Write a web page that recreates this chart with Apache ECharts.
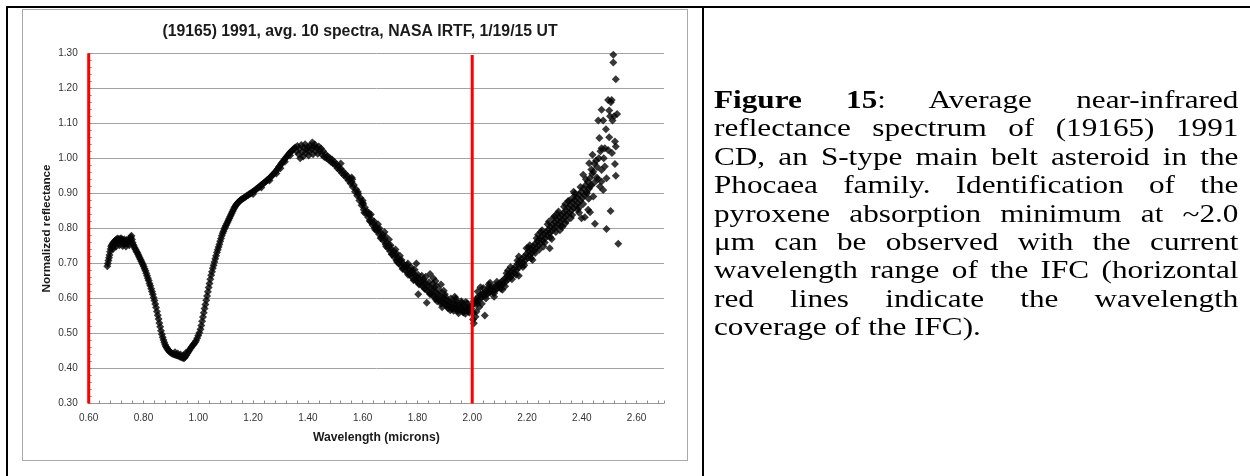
<!DOCTYPE html>
<html>
<head>
<meta charset="utf-8">
<title>(19165) 1991 CD near-infrared reflectance</title>
<script src="https://cdn.jsdelivr.net/npm/echarts@6/dist/echarts.min.js"></script>
<style>
  html, body { margin: 0; padding: 0; background: #fff; width: 1250px; height: 476px; overflow: hidden; }
  .rule { position: absolute; background: #000; }
  #box { position: absolute; left: 22px; top: 9px; width: 664px; height: 450px; border: 1px solid #a9a9a9; background: #fff; }
  #chart { position: absolute; left: 0; top: 0; width: 1250px; height: 476px; }
  #caption {
    position: absolute; left: 714px; top: 86px; width: 437px;
    font-family: "Times New Roman", "Liberation Serif", serif; font-size: 26px; line-height: 28.4px; color: #000;
    transform: scaleX(1.2); transform-origin: 0 0;
  }
  #caption div { text-align: justify; text-align-last: justify; }
  #caption div.last { text-align: left; text-align-last: left; }
</style>
</head>
<body>
<div class="rule" style="left:6px;top:6px;width:1244px;height:2px"></div>
<div class="rule" style="left:6px;top:6px;width:2px;height:470px"></div>
<div class="rule" style="left:702px;top:6px;width:2px;height:470px"></div>
<div id="box"></div>
<div id="chart"></div>
<div id="caption">
  <div><b>Figure 15</b>: Average near-infrared</div>
  <div>reflectance spectrum of (19165) 1991</div>
  <div>CD, an S-type main belt asteroid in the</div>
  <div>Phocaea family. Identification of the</div>
  <div>pyroxene absorption minimum at ~2.0</div>
  <div>μm can be observed with the current</div>
  <div>wavelength range of the IFC (horizontal</div>
  <div>red lines indicate the wavelength</div>
  <div class="last">coverage of the IFC).</div>
</div>
<script>
// Averaged spectrum: [wavelength (microns), normalized reflectance]
const spectrum = [
  // 1-micron shoulder
  [0.668,0.692],[0.670,0.700],[0.672,0.708],[0.674,0.716],[0.676,0.724],[0.678,0.733],[0.680,0.741],[0.682,0.748],
  [0.684,0.752],[0.686,0.745],[0.688,0.756],[0.690,0.760],[0.692,0.750],[0.694,0.763],[0.696,0.757],[0.698,0.766],
  [0.700,0.760],[0.702,0.769],[0.704,0.762],[0.706,0.771],[0.708,0.764],[0.710,0.768],[0.712,0.760],[0.714,0.770],
  [0.716,0.765],[0.718,0.772],[0.720,0.763],[0.722,0.768],[0.724,0.758],[0.726,0.766],[0.728,0.761],[0.730,0.768],
  [0.732,0.757],[0.734,0.764],[0.736,0.759],[0.738,0.767],[0.740,0.756],[0.742,0.763],[0.744,0.760],[0.746,0.768],
  [0.748,0.762],[0.750,0.771],[0.752,0.766],[0.754,0.775],[0.756,0.779],[0.758,0.768],[0.760,0.760],[0.762,0.754],
  [0.690,0.742],[0.700,0.748],[0.712,0.752],[0.724,0.750],[0.736,0.748],[0.748,0.752],
  // 1-micron band
  [0.765,0.750],[0.768,0.744],[0.771,0.740],[0.774,0.735],[0.777,0.731],[0.780,0.726],[0.783,0.721],[0.786,0.716],
  [0.789,0.711],[0.792,0.706],[0.795,0.701],[0.798,0.696],[0.801,0.691],[0.804,0.685],[0.807,0.679],[0.810,0.672],
  [0.813,0.665],[0.816,0.658],[0.819,0.651],[0.822,0.643],[0.825,0.636],[0.828,0.628],[0.831,0.620],[0.834,0.612],
  [0.837,0.603],[0.840,0.594],[0.843,0.584],[0.846,0.574],[0.849,0.563],[0.852,0.552],[0.855,0.541],[0.858,0.530],
  [0.861,0.519],[0.864,0.508],[0.867,0.498],[0.870,0.489],[0.873,0.481],[0.876,0.474],[0.879,0.468],[0.882,0.463],
  [0.885,0.459],[0.888,0.455],[0.891,0.452],[0.894,0.449],[0.897,0.447],[0.900,0.445],[0.904,0.443],[0.908,0.441],
  [0.912,0.440],[0.916,0.439],[0.920,0.438],[0.924,0.437],[0.928,0.436],[0.932,0.434],[0.936,0.433],[0.940,0.432],
  [0.944,0.430],[0.948,0.429],[0.952,0.433],[0.956,0.438],[0.960,0.443],[0.964,0.448],[0.968,0.453],[0.972,0.458],
  [0.976,0.462],[0.980,0.466],[0.984,0.470],[0.988,0.474],[0.992,0.479],[0.996,0.486],[1.000,0.494],[1.004,0.502],
  [0.915,0.446],[0.925,0.443],[0.935,0.440],[0.945,0.437],[0.955,0.445],
  [1.008,0.512],[1.011,0.523],[1.014,0.535],[1.017,0.547],[1.020,0.559],[1.023,0.571],[1.026,0.583],[1.029,0.595],
  [1.032,0.607],[1.035,0.619],[1.038,0.631],[1.041,0.643],[1.044,0.655],[1.047,0.666],[1.050,0.676],[1.053,0.686],
  [1.056,0.695],[1.059,0.704],[1.062,0.713],[1.065,0.722],[1.068,0.731],[1.071,0.739],[1.074,0.747],[1.077,0.755],
  [1.080,0.763],[1.083,0.771],[1.086,0.779],[1.089,0.786],[1.092,0.792],[1.095,0.798],[1.098,0.803],[1.101,0.808],
  [1.104,0.813],[1.107,0.818],[1.110,0.823],[1.113,0.828],[1.116,0.833],[1.119,0.838],[1.122,0.843],[1.125,0.848],
  [1.128,0.853],[1.131,0.858],[1.134,0.862],[1.137,0.866],[1.140,0.869],[1.143,0.872],[1.146,0.875],[1.149,0.877],
  [1.152,0.879],[1.155,0.881],[1.158,0.883],
  // continuum rise to the 1.4-micron peak
  [1.162,0.885],[1.166,0.887],[1.170,0.889],[1.174,0.891],[1.178,0.894],[1.182,0.895],[1.186,0.898],[1.190,0.900],
  [1.194,0.902],[1.198,0.904],[1.202,0.906],[1.206,0.908],[1.210,0.911],[1.214,0.913],[1.218,0.916],[1.222,0.918],
  [1.226,0.921],[1.230,0.924],[1.234,0.926],[1.238,0.929],[1.242,0.931],[1.246,0.934],[1.250,0.937],[1.254,0.939],
  [1.258,0.942],[1.262,0.945],[1.266,0.948],[1.270,0.951],[1.274,0.955],[1.278,0.958],[1.282,0.962],[1.286,0.966],
  [1.290,0.970],[1.294,0.975],[1.298,0.979],[1.302,0.984],[1.306,0.988],[1.310,0.992],[1.314,0.996],[1.318,1.000],
  [1.322,1.004],[1.326,1.008],[1.330,1.012],[1.334,1.016],[1.338,1.019],[1.342,1.022],[1.346,1.025],[1.350,1.028],
  [1.200,0.898],[1.230,0.917],[1.260,0.937],[1.285,0.957],[1.300,0.972],[1.316,0.990],[1.335,1.008],
  [1.354,1.031],[1.358,1.020],[1.362,1.035],[1.366,1.012],[1.370,1.028],[1.372,1.000],[1.376,1.038],[1.380,1.018],
  [1.383,1.005],[1.386,1.030],[1.390,1.040],[1.393,1.015],[1.396,1.026],[1.400,1.033],[1.403,1.008],[1.406,1.020],
  [1.410,1.037],[1.413,1.027],[1.416,1.045],[1.419,1.012],[1.422,1.033],[1.425,1.040],[1.428,1.020],[1.432,1.030],
  [1.436,1.013],[1.440,1.034],[1.444,1.022],[1.448,1.028],[1.452,1.010],[1.456,1.020],[1.460,1.004],[1.464,1.012],
  [1.468,1.000],[1.472,1.006],[1.476,0.996],[1.480,1.001],
  // 2-micron band, short-wavelength side
  [1.484,0.990],[1.488,0.997],[1.492,0.985],[1.496,0.990],[1.500,0.980],[1.504,0.984],[1.508,0.972],[1.512,0.977],
  [1.516,0.966],[1.520,0.970],[1.524,0.958],[1.528,0.963],[1.532,0.952],[1.536,0.956],[1.540,0.945],[1.544,0.950],
  [1.548,0.937],[1.552,0.942],[1.556,0.928],[1.560,0.933],[1.564,0.918],[1.568,0.924],[1.572,0.905],[1.576,0.912],
  [1.580,0.893],[1.584,0.899],[1.588,0.880],[1.592,0.887],[1.596,0.866],[1.600,0.873],[1.604,0.853],[1.608,0.860],
  [1.612,0.843],[1.616,0.848],[1.620,0.832],[1.624,0.838],[1.628,0.820],[1.632,0.826],[1.636,0.810],[1.640,0.815],
  [1.644,0.801],[1.648,0.806],[1.652,0.793],[1.656,0.798],[1.660,0.783],[1.664,0.789],[1.668,0.774],[1.672,0.780],
  [1.676,0.764],[1.680,0.770],[1.684,0.754],[1.688,0.760],[1.692,0.744],[1.696,0.751],[1.700,0.735],[1.704,0.742],
  [1.708,0.726],[1.712,0.733],[1.716,0.717],[1.720,0.725],[1.724,0.708],[1.728,0.716],[1.732,0.700],[1.736,0.709],
  [1.740,0.693],[1.744,0.702],[1.748,0.686],[1.752,0.695],[1.756,0.680],[1.760,0.690],[1.764,0.674],[1.768,0.683],
  [1.772,0.668],[1.776,0.677],[1.780,0.661],[1.784,0.672],[1.788,0.655],[1.792,0.666],[1.796,0.650],[1.800,0.660],
  [1.804,0.645],[1.808,0.655],[1.812,0.640],[1.816,0.650],[1.820,0.635],[1.824,0.646],[1.828,0.628],[1.832,0.641],
  [1.836,0.622],[1.840,0.636],[1.844,0.617],[1.848,0.630],[1.852,0.611],[1.856,0.624],[1.860,0.606],[1.864,0.619],
  [1.868,0.601],[1.872,0.614],[1.876,0.597],[1.880,0.609],[1.884,0.593],[1.888,0.604],[1.892,0.589],[1.896,0.600],
  [1.900,0.585],[1.904,0.596],[1.908,0.582],[1.912,0.593],[1.916,0.579],[1.920,0.590],[1.924,0.576],[1.928,0.587],
  [1.932,0.573],[1.936,0.584],[1.940,0.571],[1.944,0.582],[1.948,0.569],[1.952,0.580],[1.956,0.567],[1.960,0.578],
  [1.964,0.566],[1.968,0.577],[1.972,0.565],[1.976,0.575],[1.980,0.566],[1.984,0.574],[1.988,0.568],[1.992,0.576],
  [1.996,0.571],
  [1.562,0.940],[1.582,0.905],[1.602,0.870],[1.622,0.845],[1.642,0.820],[1.662,0.800],[1.682,0.778],[1.702,0.752],
  [1.722,0.730],[1.742,0.710],[1.762,0.695],[1.782,0.680],[1.802,0.668],[1.822,0.655],[1.842,0.646],[1.862,0.632],
  [1.882,0.622],[1.902,0.605],[1.922,0.600],[1.942,0.592],[1.962,0.588],[1.982,0.586],[1.872,0.592],[1.912,0.572],
  [1.932,0.565],[1.968,0.560],[1.990,0.560],
  [1.606,0.845],[1.626,0.822],[1.646,0.796],[1.666,0.772],[1.686,0.748],[1.706,0.726],[1.726,0.704],[1.746,0.684],
  [1.766,0.668],[1.786,0.652],[1.806,0.640],[1.826,0.628],[1.846,0.612],[1.866,0.598],[1.886,0.585],[1.906,0.578],
  [1.926,0.570],[1.946,0.564],[1.966,0.562],[1.986,0.562],
  [1.656,0.812],[1.696,0.768],[1.736,0.722],[1.776,0.690],[1.816,0.665],[1.856,0.642],[1.896,0.622],[1.936,0.605],
  [1.976,0.590],[1.846,0.670],[1.866,0.650],[1.796,0.700],[1.886,0.640],
  [1.803,0.612],[1.834,0.588],[1.858,0.658],[1.830,0.662],[1.790,0.682],[1.870,0.635],[1.900,0.612],[1.940,0.600],
  [1.960,0.592],[1.920,0.566],[1.950,0.558],[1.975,0.556],[1.890,0.575],[1.765,0.700],[1.720,0.740],[1.680,0.790],
  [1.630,0.840],[1.600,0.880],[1.560,0.945],[1.520,0.985],
  // 2-micron band, long-wavelength side
  [2.000,0.580],[2.004,0.560],[2.006,0.592],[2.010,0.586],[2.012,0.548],[2.014,0.598],[2.018,0.593],[2.022,0.605],
  [2.026,0.598],[2.030,0.610],[2.034,0.603],[2.038,0.614],[2.042,0.607],[2.046,0.618],[2.050,0.610],[2.054,0.622],
  [2.058,0.614],[2.062,0.625],[2.066,0.617],[2.070,0.629],[2.074,0.620],[2.078,0.632],[2.082,0.623],[2.086,0.636],
  [2.090,0.627],[2.094,0.640],[2.098,0.632],[2.102,0.645],[2.106,0.637],[2.110,0.650],[2.114,0.642],[2.118,0.656],
  [2.122,0.648],[2.126,0.662],[2.130,0.654],[2.134,0.669],[2.138,0.660],[2.142,0.676],[2.146,0.667],[2.150,0.684],
  [2.154,0.674],[2.158,0.691],[2.162,0.681],[2.166,0.699],[2.170,0.688],[2.174,0.706],[2.178,0.695],[2.182,0.713],
  [2.186,0.702],[2.190,0.720],[2.194,0.709],[2.198,0.727],[2.202,0.716],[2.206,0.734],[2.210,0.723],[2.214,0.742],
  [2.218,0.730],[2.222,0.749],[2.226,0.737],[2.230,0.756],[2.234,0.744],[2.238,0.763],[2.242,0.751],[2.246,0.770],
  [2.250,0.758],[2.254,0.777],[2.258,0.765],[2.262,0.784],[2.266,0.772],[2.270,0.790],[2.274,0.779],[2.278,0.797],
  [2.282,0.786],[2.286,0.804],[2.290,0.792],[2.294,0.811],[2.298,0.799],[2.302,0.818],[2.306,0.805],[2.310,0.825],
  [2.314,0.812],[2.318,0.832],[2.322,0.818],[2.326,0.838],[2.330,0.825],[2.334,0.845],[2.338,0.831],[2.342,0.852],
  [2.346,0.838],[2.350,0.859],[2.354,0.844],[2.358,0.866],[2.362,0.851],[2.366,0.874],[2.370,0.858],[2.374,0.881],
  [2.378,0.865],[2.382,0.889],[2.386,0.872],[2.390,0.897],[2.394,0.879],[2.398,0.905],[2.402,0.887],[2.406,0.914],
  [2.410,0.895],[2.414,0.923],[2.418,0.904],[2.422,0.933],[2.426,0.913],[2.430,0.944],[2.434,0.924],[2.438,0.956],
  [2.105,0.628],[2.125,0.672],[2.145,0.655],[2.165,0.708],[2.185,0.690],[2.205,0.745],[2.215,0.715],[2.235,0.772],
  [2.245,0.740],[2.255,0.795],[2.265,0.760],[2.275,0.812],[2.285,0.775],[2.295,0.830],[2.305,0.790],[2.315,0.848],
  [2.325,0.806],[2.335,0.862],[2.345,0.822],[2.355,0.880],[2.365,0.838],[2.375,0.900],[2.385,0.853],[2.395,0.918],
  [2.405,0.870],[2.415,0.940],[2.425,0.885],[2.435,0.968],[2.445,0.930],[2.455,0.945],
  [2.020,0.585],[2.050,0.600],[2.080,0.615],[2.120,0.635],[2.160,0.668],[2.190,0.695],[2.230,0.730],[2.260,0.748],
  [2.290,0.770],[2.330,0.805],[2.360,0.830],[2.390,0.845],[2.060,0.632],[2.090,0.648],[2.130,0.680],[2.170,0.720],
  [2.210,0.752],[2.240,0.782],[2.280,0.820],[2.310,0.842],[2.340,0.870],[2.370,0.905],
  [2.003,0.540],[2.006,0.529],[2.046,0.551],[2.015,0.562],[2.025,0.575],[2.035,0.585],[2.020,0.620],[2.040,0.630],
  [2.065,0.645],[2.030,0.632],[2.060,0.640],[2.080,0.605],[2.110,0.625],[2.140,0.690],[2.170,0.665],[2.198,0.743],
  [2.220,0.710],[2.250,0.790],[2.283,0.743],[2.300,0.835],[2.320,0.795],[2.350,0.878],[2.340,0.815],[2.370,0.890],
  [2.399,0.829],[2.411,0.832],[2.430,0.846],[2.405,0.953],[2.390,0.860],[2.423,0.853],[2.418,0.900],[2.430,0.919],
  [2.427,0.986],[2.439,1.010],[2.442,0.891],[2.442,0.962],[2.448,0.813],[2.452,0.994],
  // noisy long-wavelength end
  [2.515,1.296],[2.515,1.274],[2.524,1.226],[2.496,1.167],[2.509,1.167],[2.472,1.139],[2.500,1.137],[2.529,1.127],
  [2.460,1.108],[2.478,1.108],[2.512,1.108],[2.488,1.083],[2.464,1.058],[2.472,1.029],[2.484,1.029],[2.496,1.024],
  [2.521,1.048],[2.524,1.034],[2.484,0.977],[2.521,0.984],[2.472,0.967],[2.490,0.943],[2.524,0.950],[2.472,0.934],
  [2.478,0.910],[2.505,0.850],[2.490,0.798],[2.533,0.756],[2.506,1.160],[2.503,1.120],[2.468,1.020],[2.456,0.975],
  [2.462,1.000],[2.446,0.985],[2.458,0.940],[2.466,0.920],[2.480,1.000],[2.500,1.060],[2.510,1.015],[2.518,1.120]
];

// IFC wavelength coverage limits and the heights their markers reach
const ifcEdges = [0.60, 2.00];
const ifcTops = [1.30, 1.295];

const xRange = [0.60, 2.70];
const yRange = [0.30, 1.30];

const sansFont = '"Liberation Sans", Arial, sans-serif';
const gridGrey = '#a3a3a3';
const tickGrey = '#8c8c8c';

const coverageSeries = ifcEdges.map((edge, i) => ({
  type: 'line',
  data: [[edge, ifcTops[i]], [edge, yRange[0]]],
  symbol: 'none',
  clip: false,
  silent: true,
  z: 5,
  lineStyle: { color: '#ff0000', width: 3 }
}));

const chart = echarts.init(document.getElementById('chart'));
chart.setOption({
  animation: false,
  backgroundColor: 'transparent',
  title: {
    text: '(19165) 1991, avg. 10 spectra, NASA IRTF, 1/19/15 UT',
    left: 355,
    top: 19,
    textAlign: 'center',
    textStyle: { fontFamily: sansFont, fontWeight: 'bold', fontSize: 15.8, color: '#1a1a1a' }
  },
  grid: { left: 88.7, top: 53.3, width: 575.3, height: 350.2 },
  xAxis: {
    type: 'value',
    min: xRange[0],
    max: xRange[1],
    interval: 0.2,
    name: 'Wavelength (microns)',
    nameLocation: 'middle',
    nameGap: 28,
    nameTextStyle: { fontFamily: sansFont, fontWeight: 'bold', fontSize: 12.2, color: '#1a1a1a' },
    axisLine: { show: true, onZero: false, lineStyle: { color: '#9a9a9a', width: 1 } },
    axisTick: { show: true, inside: true, length: 3, lineStyle: { color: tickGrey } },
    minorTick: { show: true, splitNumber: 5, length: 3, lineStyle: { color: tickGrey } },
    splitLine: { show: false },
    axisLabel: {
      formatter: v => v.toFixed(2),
      margin: 10,
      showMaxLabel: false,
      fontFamily: sansFont,
      fontSize: 10,
      color: '#333'
    }
  },
  yAxis: {
    type: 'value',
    min: yRange[0],
    max: yRange[1],
    interval: 0.1,
    name: 'Normalized reflectance',
    nameLocation: 'middle',
    nameGap: 36,
    nameTextStyle: { fontFamily: sansFont, fontWeight: 'bold', fontSize: 11.7, color: '#1a1a1a' },
    axisLine: { show: true, onZero: false, lineStyle: { color: '#9a9a9a', width: 1 } },
    axisTick: { show: true, inside: true, length: 3, lineStyle: { color: tickGrey } },
    minorTick: { show: true, splitNumber: 5, length: 3, lineStyle: { color: tickGrey } },
    splitLine: { show: true, lineStyle: { color: gridGrey, width: 1 } },
    axisLabel: {
      formatter: v => v.toFixed(2),
      margin: 11,
      fontFamily: sansFont,
      fontSize: 10,
      color: '#333'
    }
  },
  series: [
    {
      type: 'scatter',
      data: spectrum,
      symbol: 'diamond',
      symbolSize: 8,
      z: 3,
      itemStyle: { color: '#050505' }
    },
    ...coverageSeries
  ]
});
</script>
</body>
</html>
